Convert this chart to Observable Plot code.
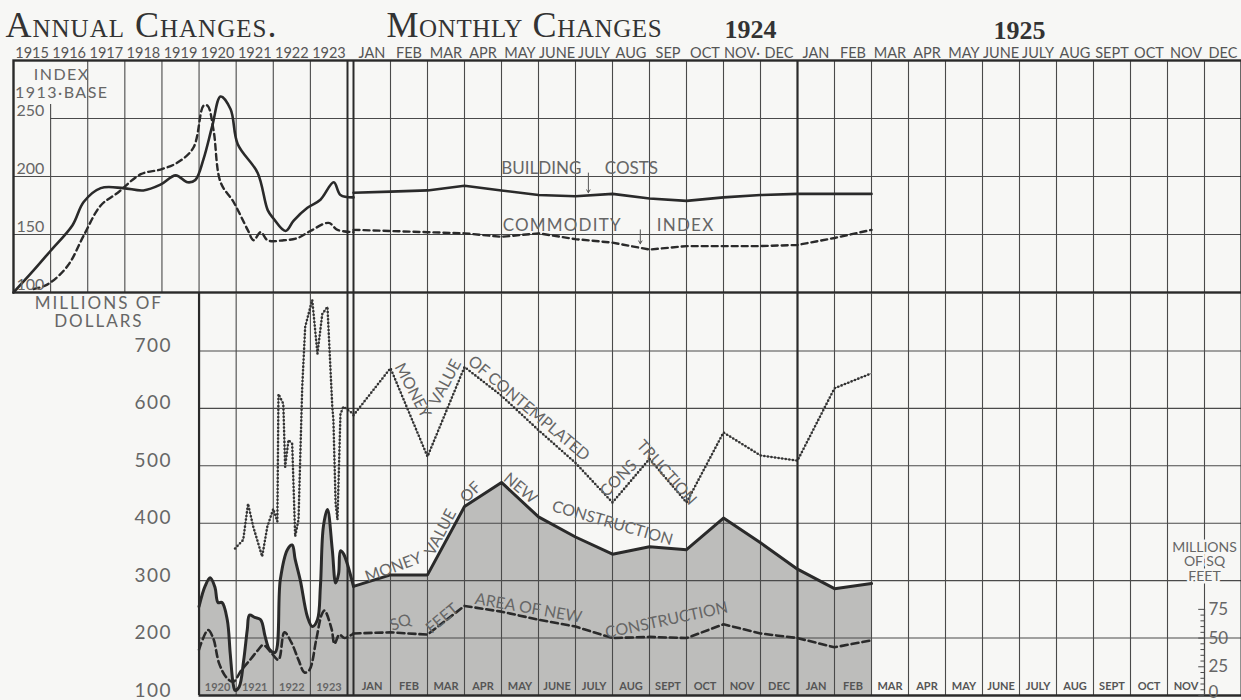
<!DOCTYPE html>
<html><head><meta charset="utf-8">
<script src="https://cdn.jsdelivr.net/npm/d3@7"></script>
<script src="https://cdn.jsdelivr.net/npm/@observablehq/plot@0.6"></script>
<style>
body{margin:0;background:#f7f7f5;}
#chart{position:relative;width:1241px;height:700px;overflow:hidden;background:#f7f7f5;}
#chart svg{position:absolute;left:0;overflow:visible;}
</style></head><body><div id="chart"></div>
<script>
// ---------- data ----------
const years = [1915, 1916, 1917, 1918, 1919, 1920, 1921, 1922, 1923];
const bottomYears = [1920, 1921, 1922, 1923];
const monthsTopRow = ["JAN","FEB","MAR","APR","MAY","JUNE","JULY","AUG","SEP","OCT","NOV·","DEC",
                      "JAN","FEB","MAR","APR","MAY","JUNE","JULY","AUG","SEPT","OCT","NOV","DEC"];
const monthsBottomRow = ["JAN","FEB","MAR","APR","MAY","JUNE","JULY","AUG","SEPT","OCT","NOV","DEC",
                         "JAN","FEB","MAR","APR","MAY","JUNE","JULY","AUG","SEPT","OCT","NOV"];
const indexTicks = [100, 150, 200, 250];
const dollarTicks = [100, 200, 300, 400, 500, 600, 700];
const sqftTicks = [25, 50, 75];
const sqftZero = [0];
const sqftMinorTicks = [5, 10, 15, 20, 30, 35, 40, 45, 55, 60, 65, 70];

// index numbers, 1913 = 100  [year, value]
const buildingCostsAnnual = [[1915.0,100],[1915.54,119],[1916.0,136],[1916.59,158],[1916.89,178],[1917.35,190],[1917.96,190],[1918.5,188],[1918.96,193],[1919.37,201],[1919.69,195],[1919.9,197],[1920.12,215],[1920.36,244],[1920.58,269],[1920.85,258],[1921.04,228],[1921.58,203],[1921.85,171],[1922.0,164],[1922.33,153],[1922.55,162],[1922.92,173],[1923.27,180],[1923.63,195],[1923.81,184],[1924.0,182]];
const commodityIndexAnnual = [[1915.54,103],[1915.92,107],[1916.46,123],[1916.89,149],[1917.35,175],[1917.81,186],[1918.43,202],[1918.96,206],[1919.42,212],[1919.85,225],[1920.12,261],[1920.23,261],[1920.39,240],[1920.58,195],[1920.93,178],[1921.31,154],[1921.47,145],[1921.66,152],[1921.85,145],[1922.28,145],[1922.66,147],[1923.0,153],[1923.49,160],[1923.73,154],[1924.0,152]];
// monthly, Dec 1923 .. Feb 1925 (month ends)
const buildingCostsMonthly = [186, 187, 188, 192, 188, 184, 183, 185, 181, 179, 182, 184, 185, 185, 185];
const commodityIndexMonthly = [154, 153, 152, 151, 148, 151, 146, 143, 137, 140, 140, 140, 141, 147, 154];

// millions of dollars [year, value]
const newConstructionAnnual = [[1920.0,255],[1920.16,290],[1920.3,305],[1920.43,288],[1920.51,262],[1920.62,262],[1920.76,232],[1920.84,173],[1920.92,120],[1920.97,109],[1921.08,115],[1921.2,160],[1921.3,215],[1921.36,240],[1921.5,236],[1921.66,232],[1921.78,203],[1921.9,180],[1922.05,175],[1922.19,302],[1922.38,354],[1922.51,362],[1922.59,337],[1922.73,300],[1922.92,237],[1923.05,220],[1923.19,232],[1923.27,290],[1923.35,394],[1923.46,424],[1923.59,354],[1923.68,296],[1923.76,312],[1923.81,352],[1923.89,347],[1924.0,290]];
const contemplatedAnnual = [[1920.97,356],[1921.19,371],[1921.32,434],[1921.46,394],[1921.7,342],[1921.84,394],[1922.0,425],[1922.11,403],[1922.14,625],[1922.27,608],[1922.32,498],[1922.41,545],[1922.51,538],[1922.59,377],[1922.68,406],[1922.78,637],[1922.86,742],[1923.05,789],[1923.19,695],[1923.32,764],[1923.46,777],[1923.59,603],[1923.62,580],[1923.68,434],[1923.73,406],[1923.81,590],[1923.89,603],[1924.0,590]];
// millions of square feet [year, value]
const sqFeetAnnual = [[1920.0,40],[1920.24,57],[1920.38,50],[1920.54,28],[1920.73,16],[1920.92,12],[1921.14,22],[1921.4,32],[1921.6,40],[1921.73,44],[1921.95,37],[1922.14,31],[1922.3,55],[1922.49,46],[1922.68,31],[1922.84,20],[1922.97,22],[1923.16,49],[1923.3,70],[1923.38,74],[1923.57,58],[1923.65,45],[1923.78,53],[1923.92,50],[1924.0,54]];
const newConstructionMonthly = [290, 310, 310, 429, 471, 411, 376, 346, 359, 354, 409, 366, 320, 286, 295];
const contemplatedMonthly = [588, 670, 516, 672, 622, 562, 505, 436, 512, 436, 558, 518, 509, 635, 661];
const sqFeetMonthly = [54, 55, 53, 78, 73, 66, 60, 50, 51, 50, 62, 54, 50, 42, 48];

// ---------- helpers ----------
const PAPER = "#f7f7f5", INK = "#2a2a2a", GRID = "#4a4a4a", LABEL = "#666", FILL = "#bdbdbb";
const SANS = "Lato, 'DejaVu Sans', sans-serif";
const SERIF = "'Liberation Serif', 'DejaVu Serif', serif";
const monthX = m => 1924 + m / 12;
const annual = arr => arr.map(([x, v]) => ({x, v}));
const monthly = arr => arr.map((v, i) => ({x: monthX(i), v}));
const sqftToDollarAxis = v => 100 + 2 * v; // right-hand scale: 0 ↔ 100, 50 ↔ 200
const X = {type: "linear", domain: [1915, 1924, 1924, 1926], range: [13, 347, 353, 1241], axis: null};
const gridMonths = d3.range(1, 24).filter(m => m !== 12).map(monthX);
const style = {background: "transparent", overflow: "visible", fontFamily: SANS};
const note = (t, x, y, rotate, o = {}) =>
  Plot.text([t], {x: () => x, y: () => y, text: d => d, rotate, fontSize: 16, fill: LABEL, fontFamily: SANS, ...o});

// ---------- top panel: index numbers ----------
const topPlot = Plot.plot({
  width: 1241, height: 294, marginTop: 60, marginBottom: 2, marginLeft: 13, marginRight: 0,
  x: X, y: {domain: [100, 300], axis: null}, style,
  marks: [
    Plot.ruleX(years.slice(2), {stroke: GRID, strokeWidth: 1.1}),
    Plot.ruleX([1916], {y1: 100, y2: 262, stroke: GRID, strokeWidth: 1.1}),
    Plot.ruleX(gridMonths, {stroke: GRID, strokeWidth: 1.1}),
    Plot.ruleY([150, 200], {x1: 1915, x2: 1926, stroke: GRID, strokeWidth: 1.1}),
    Plot.ruleY([250], {x1: 1916, x2: 1926, stroke: GRID, strokeWidth: 1.1}),
    Plot.line(annual(buildingCostsAnnual), {x: "x", y: "v", curve: "catmull-rom", stroke: INK, strokeWidth: 2.6}),
    Plot.line(monthly(buildingCostsMonthly), {x: "x", y: "v", stroke: INK, strokeWidth: 2.6}),
    Plot.line(annual(commodityIndexAnnual), {x: "x", y: "v", curve: "catmull-rom", stroke: INK, strokeWidth: 2.4, strokeDasharray: "6,4"}),
    Plot.line(monthly(commodityIndexMonthly), {x: "x", y: "v", stroke: INK, strokeWidth: 2.4, strokeDasharray: "6,4"}),
    Plot.frame({stroke: INK, strokeWidth: 2.4}),
    Plot.ruleX([1924], {dx: -6, stroke: INK, strokeWidth: 2}),
    Plot.ruleX([1924], {stroke: INK, strokeWidth: 2}),
    Plot.ruleX([1925], {stroke: INK, strokeWidth: 2.2}),
    // headings
    Plot.text(["Annual Changes."], {x: () => 1915, text: d => d, frameAnchor: "top", dx: -8, dy: -24, textAnchor: "start", lineAnchor: "bottom", fontFamily: SERIF, fontSize: 36, fontVariant: "small-caps", fill: "#333"}),
    Plot.text(["Monthly Changes"], {x: () => 1924, text: d => d, frameAnchor: "top", dx: 33, dy: -24, textAnchor: "start", lineAnchor: "bottom", fontFamily: SERIF, fontSize: 36, fontVariant: "small-caps", fill: "#333"}),
    Plot.text(["1924"], {x: () => monthX(10.73), text: d => d, frameAnchor: "top", dy: -23, lineAnchor: "bottom", fontFamily: SERIF, fontSize: 26, fontWeight: "bold", fill: "#333"}),
    Plot.text(["1925"], {x: () => monthX(18), text: d => d, frameAnchor: "top", dy: -22, lineAnchor: "bottom", fontFamily: SERIF, fontSize: 26, fontWeight: "bold", fill: "#333"}),
    Plot.text(years, {x: d => d + 0.5, text: d => String(d), frameAnchor: "top", dy: -3, lineAnchor: "bottom", fontSize: 14.5, fill: "#555"}),
    Plot.text(monthsTopRow, {x: (d, i) => monthX(i + 0.5), text: d => d, frameAnchor: "top", dy: -3, lineAnchor: "bottom", fontSize: 14.5, fill: "#555"}),
    // left scale
    Plot.text(indexTicks, {x: () => 1915, y: d => d, text: d => String(d), dx: 3, dy: -3, textAnchor: "start", lineAnchor: "bottom", fontSize: 16, fill: LABEL}),
    Plot.text(["INDEX\n1913·BASE"], {x: () => 1916.3, text: d => d, frameAnchor: "top", dy: 7, lineAnchor: "top", lineHeight: 1.1, fontSize: 16, fill: LABEL}),
    // series labels
    note("BUILDING", 1924.423, 207, 0, {fontSize: 17}),
    note("COSTS", 1924.626, 207, 0, {fontSize: 17}),
    note("COMMODITY", 1924.47, 158, 0, {fontSize: 17}),
    note("INDEX", 1924.748, 158, 0, {fontSize: 17}),
    Plot.arrow([0], {x1: () => 1924.529, y1: () => 203, x2: () => 1924.529, y2: () => 186, stroke: "#555", strokeWidth: 1, headLength: 5}),
    Plot.arrow([0], {x1: () => 1924.646, y1: () => 154, x2: () => 1924.646, y2: () => 142, stroke: "#555", strokeWidth: 1, headLength: 5})
  ]
});

// ---------- bottom panel: millions of dollars / sq ft ----------
const rulerX = monthX(23);
const bottomPlot = Plot.plot({
  width: 1241, height: 407, marginTop: 0, marginBottom: 5, marginLeft: 13, marginRight: 0,
  x: X, y: {domain: [100, 800], axis: null}, style,
  marks: [
    Plot.areaY(annual(newConstructionAnnual), {x: "x", y1: 100, y2: "v", curve: "catmull-rom", fill: FILL}),
    Plot.areaY(monthly(newConstructionMonthly), {x: "x", y1: 100, y2: "v", fill: FILL}),
    Plot.ruleX([1921, 1922, 1923], {stroke: GRID, strokeWidth: 1.1}),
    Plot.ruleX(gridMonths, {stroke: GRID, strokeWidth: 1.1}),
    Plot.ruleY(dollarTicks.slice(1), {x1: 1920, x2: 1926, stroke: GRID, strokeWidth: 1.1}),
    Plot.ruleX([1920], {stroke: INK, strokeWidth: 2.2}),
    Plot.ruleY([100], {x1: 1920, x2: 1926, stroke: INK, strokeWidth: 2.4}),
    Plot.ruleX([1926], {stroke: INK, strokeWidth: 2}),
    // series
    Plot.line(annual(contemplatedAnnual), {x: "x", y: "v", stroke: "#777", strokeWidth: 1}),
    Plot.line(annual(contemplatedAnnual), {x: "x", y: "v", stroke: "#333", strokeWidth: 2.6, strokeDasharray: "0,3.6", strokeLinecap: "round"}),
    Plot.line(monthly(contemplatedMonthly), {x: "x", y: "v", stroke: "#777", strokeWidth: 1}),
    Plot.line(monthly(contemplatedMonthly), {x: "x", y: "v", stroke: "#333", strokeWidth: 2.6, strokeDasharray: "0,3.6", strokeLinecap: "round"}),
    Plot.line(annual(sqFeetAnnual), {x: "x", y: d => sqftToDollarAxis(d.v), curve: "catmull-rom", stroke: INK, strokeWidth: 2.6, strokeDasharray: "7,4"}),
    Plot.line(monthly(sqFeetMonthly), {x: "x", y: d => sqftToDollarAxis(d.v), stroke: INK, strokeWidth: 2.6, strokeDasharray: "7,4"}),
    Plot.line(annual(newConstructionAnnual), {x: "x", y: "v", curve: "catmull-rom", stroke: INK, strokeWidth: 3}),
    Plot.line(monthly(newConstructionMonthly), {x: "x", y: "v", stroke: INK, strokeWidth: 3}),
    Plot.ruleX([1924], {dx: -6, stroke: INK, strokeWidth: 2}),
    Plot.ruleX([1924], {stroke: INK, strokeWidth: 2}),
    Plot.ruleX([1925], {stroke: INK, strokeWidth: 2.2}),
    // left scale
    Plot.text(dollarTicks, {x: () => 1920, y: d => d, text: d => String(d), dx: -27, dy: -5, textAnchor: "end", fontSize: 19, fill: LABEL}),
    Plot.text(["MILLIONS OF\nDOLLARS"], {x: () => 1917.3, text: d => d, frameAnchor: "top", dy: 2, lineAnchor: "top", lineHeight: 1.1, fontSize: 17, fill: LABEL}),
    // bottom labels
    Plot.text(bottomYears, {x: d => d + 0.5, y: () => 100, text: d => String(d), dy: -8, fontSize: 11, fontWeight: "bold", fill: "#666"}),
    Plot.text(monthsBottomRow, {x: (d, i) => monthX(i + 0.5), y: () => 100, text: d => d, dy: -9, fontSize: 11, fontWeight: "bold", fill: "#555"}),
    // right sq-ft scale
    Plot.ruleX([rulerX], {y1: 100, y2: sqftToDollarAxis(75), stroke: GRID, strokeWidth: 1.2}),
    Plot.ruleY(sqftMinorTicks, {y: sqftToDollarAxis, x1: rulerX - 0.008, x2: rulerX, stroke: GRID, strokeWidth: 1}),
    Plot.ruleY(sqftZero.concat(sqftTicks), {y: sqftToDollarAxis, x1: rulerX - 0.013, x2: rulerX, stroke: GRID, strokeWidth: 1}),
    Plot.text(sqftTicks, {x: () => rulerX, y: sqftToDollarAxis, text: d => String(d), dx: 4, textAnchor: "start", fontSize: 17, fill: LABEL}),
    Plot.text(sqftZero, {x: () => rulerX, y: sqftToDollarAxis, text: d => String(d), dx: 4, dy: 2, textAnchor: "start", lineAnchor: "bottom", fontSize: 17, fill: LABEL}),
    Plot.text(["MILLIONS\nOF SQ\nFEET"], {x: () => rulerX, y: () => 333, text: d => d, lineHeight: 1.05, fontSize: 14, fill: LABEL, stroke: PAPER, strokeWidth: 5}),
    // series labels
    note("MONEY", 1924.133, 631, 62),
    note("VALUE", 1924.207, 645, -62),
    note("OF CONTEMPLATED", 1924.395, 600, 40),
    note("CONS", 1924.597, 478, -45),
    note("TRUCTION", 1924.705, 488, 48),
    note("MONEY", 1924.09, 323, -20),
    note("VALUE", 1924.196, 384, -62),
    note("OF", 1924.264, 454, -45),
    note("NEW", 1924.376, 461, 40),
    note("CONSTRUCTION", 1924.583, 400, 16),
    note("SQ", 1924.106, 227, -20),
    note("FEET", 1924.2, 234, -40),
    note("AREA OF NEW", 1924.394, 252, 10),
    note("CONSTRUCTION", 1924.705, 231, -12)
  ]
});

// letter spacing, as in the hand lettering
function letterSpace(svg, spacing) {
  d3.select(svg).selectAll("text").each(function() {
    const s = spacing[this.textContent];
    if (s != null) this.style.letterSpacing = s + "px";
  });
}
letterSpace(topPlot, {"Annual Changes.": 1, "Monthly Changes": 0.6, "INDEX1913·BASE": 1.5, "COMMODITY": 1.2, "INDEX": 1.2});
letterSpace(bottomPlot, {"MILLIONS OFDOLLARS": 2, "700": 1.5, "600": 1.5, "500": 1.5, "400": 1.5, "300": 1.5, "200": 1.5, "100": 1.5});

const chart = document.getElementById("chart");
topPlot.style.top = "0px";
bottomPlot.style.top = "293px";
chart.appendChild(topPlot);
chart.appendChild(bottomPlot);
</script></body></html>
